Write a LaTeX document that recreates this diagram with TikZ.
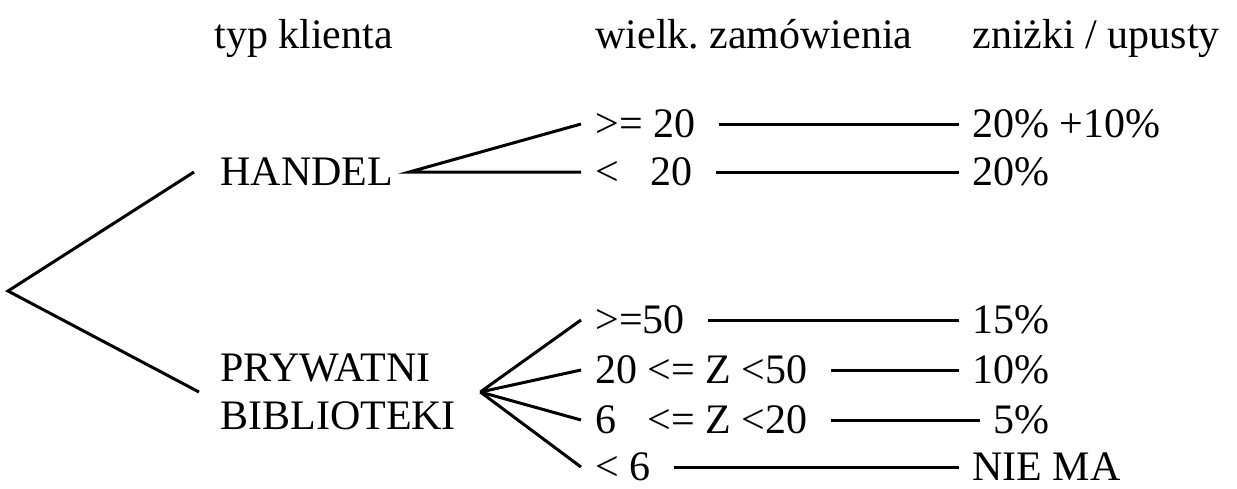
\documentclass[tikz,border=0pt]{standalone}
\usepackage{fontspec}
\setmainfont{Liberation Serif}
\frenchspacing

\begin{document}
\begin{tikzpicture}[x=0.2mm,y=-0.2mm,
  every node/.style={font=\fontsize{23.9}{27.2}\selectfont},
  txt/.style={inner sep=0pt,anchor=base west,text height=5.2mm,text depth=0pt},
  branch/.style={line width=0.6mm},
  rule/.style={line width=0.6mm,shorten <=4.6mm,shorten >=2.6mm}]
  \pgfmathsetmacro{\colA}{220}
  \pgfmathsetmacro{\colB}{595}
  \pgfmathsetmacro{\colC}{972}

  \useasboundingbox (0,0) rectangle (1237,488);

  % Naglowki
  \node[txt] (hTyp) at (214,48) {typ klienta};
  \node[txt] (hWielk) at (\colB,48) {wielk. zamówienia};
  \node[txt] (hZnizki) at (\colC,48) {zniżki / upusty};

  % Typ klienta
  \coordinate (root) at (8,291);
  \node[txt] (handel) at (\colA,185) {HANDEL};
  \node[inner sep=0pt,align=left,anchor=west] (prywatni) at (\colA,392) {PRYWATNI\\BIBLIOTEKI};

  % Wielkosc zamowienia
  \node[txt] (hGeq) at (\colB,137) {>= 20};
  \node[txt] (hLt) at (\colB,185) {<\ \ \ 20};
  \node[txt] (pGeq) at (\colB,333) {>=50};
  \node[txt] (pMid) at (\colB,383) {20 <= Z <50};
  \node[txt] (pLow) at (\colB,433) {6\ \ \ <= Z <20};
  \node[txt] (pLt) at (\colB,480) {< 6};

  % Znizki
  \node[txt] (rA) at (\colC,137) {20\% +10\%};
  \node[txt] (rB) at (\colC,185) {20\%};
  \node[txt] (rC) at (\colC,333) {15\%};
  \node[txt] (rD) at (\colC,383) {10\%};
  \node[txt] (rE) at (993,433) {5\%};
  \node[txt] (rF) at (\colC,480) {NIE MA};

  % Galezie
  \draw[branch] ([xshift=-5.2mm]handel.west) -- (root) -- ([xshift=-4.2mm]prywatni.west);
  \coordinate (handelFork) at ([xshift=3.2mm]handel.east);
  \coordinate (prywFork) at ([xshift=4.8mm]prywatni.east);
  \draw[branch] ([xshift=-2.8mm]hGeq.west) -- (handelFork) -- ([xshift=-2.8mm]hLt.west);
  \foreach \n in {pGeq,pMid,pLow,pLt}
    \draw[branch] (prywFork) -- ([xshift=-2.8mm]\n.west);

  % Linie do znizek
  \draw[rule] (hGeq.east) -- (rA.west);
  \draw[rule] (hLt.east) -- (rB.west);
  \draw[rule] (pGeq.east) -- (rC.west);
  \draw[rule] (pMid.east) -- (rD.west);
  \draw[rule] (pLow.east) -- (rE.west);
  \draw[rule] (pLt.east) -- (rF.west);
\end{tikzpicture}
\end{document}
